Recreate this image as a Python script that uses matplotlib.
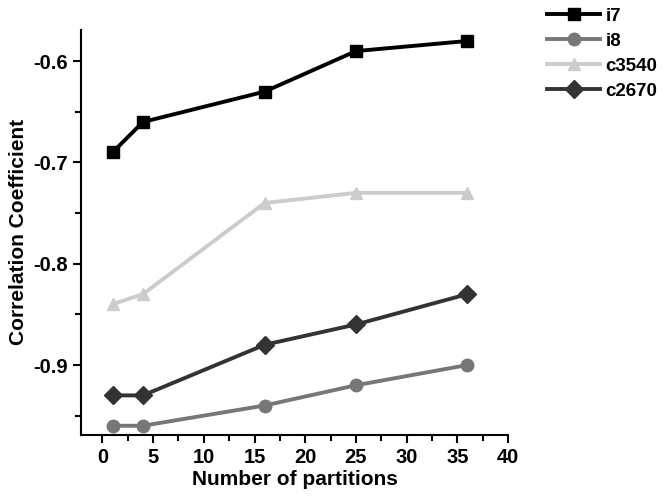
import matplotlib.pyplot as plt
from matplotlib.ticker import MultipleLocator

plt.rcParams['font.family'] = ['Liberation Sans', 'DejaVu Sans']
plt.rcParams['font.weight'] = 'bold'

partitions = [1, 4, 16, 25, 36]
i7 = [-0.69, -0.66, -0.63, -0.59, -0.58]
i8 = [-0.96, -0.96, -0.94, -0.92, -0.90]
c3540 = [-0.84, -0.83, -0.74, -0.73, -0.73]
c2670 = [-0.93, -0.93, -0.88, -0.86, -0.83]

series = [
    ('i7', i7, '#000000', 's'),
    ('i8', i8, '#777777', 'o'),
    ('c3540', c3540, '#cccccc', '^'),
    ('c2670', c2670, '#333333', 'D'),
]

fig = plt.figure(figsize=(6.65, 4.97), dpi=100)
ax = fig.add_axes([0.122, 0.125, 0.642, 0.815])

for name, vals, col, mk in series:
    ax.plot(partitions, vals, color=col, marker=mk, markersize=9, linewidth=2.8, label=name)

ax.set_xlim(-2.1, 40)
ax.set_ylim(-0.969, -0.569)
ax.xaxis.set_major_locator(MultipleLocator(5))
ax.xaxis.set_minor_locator(MultipleLocator(2.5))
ax.yaxis.set_minor_locator(MultipleLocator(0.05))
ax.set_yticks([-0.6, -0.7, -0.8, -0.9])
ax.set_yticklabels(['-0.6', '-0.7', '-0.8', '-0.9'])

for s in ['top', 'right']:
    ax.spines[s].set_visible(False)
for s in ['left', 'bottom']:
    ax.spines[s].set_linewidth(1.5)
ax.tick_params(which='major', direction='out', length=6, width=1.5, labelsize=14.5)
ax.tick_params(which='minor', direction='out', length=4, width=1.5)

ax.set_xlabel('Number of partitions', fontsize=15, fontweight='bold', labelpad=2)
ax.set_ylabel('Correlation Coefficient', fontsize=15, fontweight='bold')

fig.legend(loc='upper left', bbox_to_anchor=(0.812, 1.0), frameon=False,
           fontsize=13.5, handlelength=2.8, handletextpad=0.3,
           labelspacing=0.42, borderaxespad=0)

fig.savefig('out.png', dpi=100)
